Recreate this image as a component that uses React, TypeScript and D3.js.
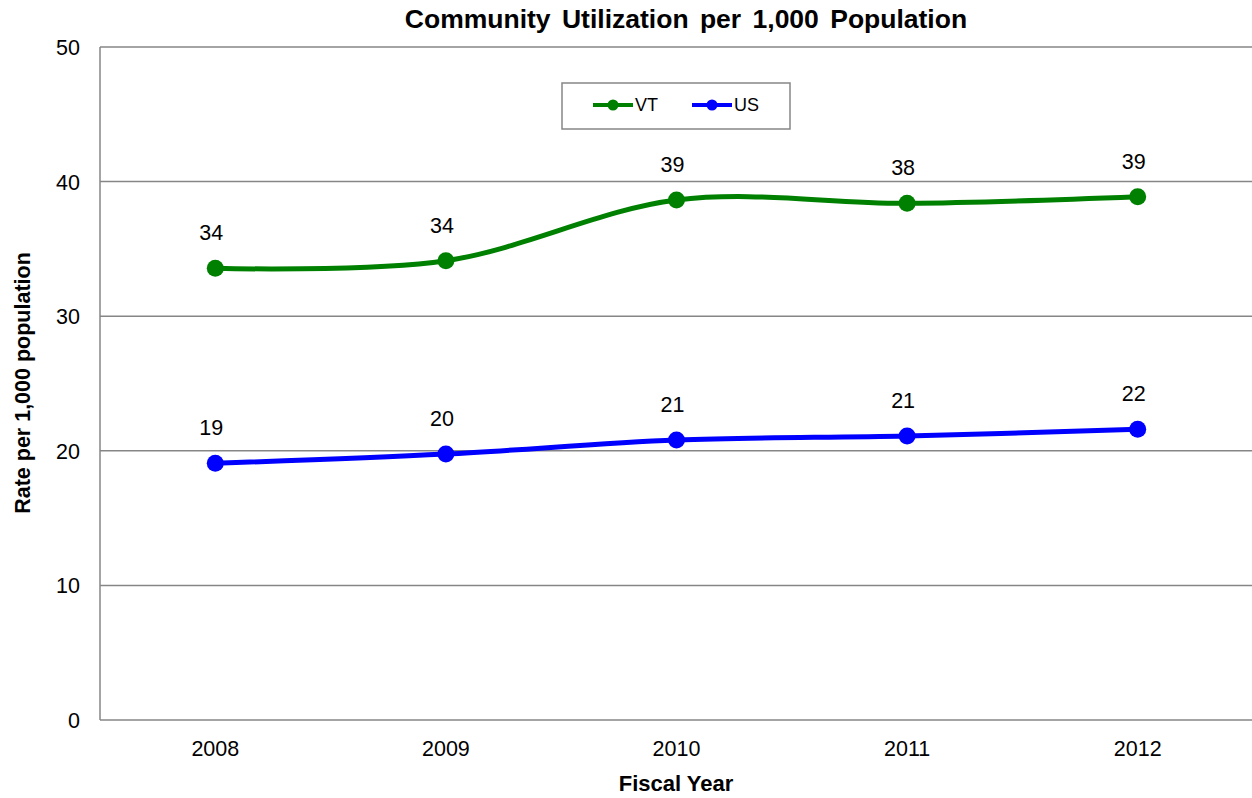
import React from "react";
import * as d3 from "d3";

// Fiscal years on the x axis
const years = ["2008", "2009", "2010", "2011", "2012"];
// Community utilization rate per 1,000 population
const vtRates = [33.56, 34.12, 38.63, 38.39, 38.88];
const usRates = [19.07, 19.76, 20.8, 21.1, 21.6];
const yTicks = [0, 10, 20, 30, 40, 50];

const seriesNames = ["VT", "US"];
const seriesColors = ["#008000", "#0000FF"];

const W = 1252;
const H = 798;
const FONT = "'Liberation Sans', Arial, sans-serif";

export default function App() {
  const left = 100;
  const right = 1253;
  const top = 47;
  const bottom = 720;

  const x = d3.scaleBand<string>().domain(years).range([left, right]);
  const y = d3.scaleLinear().domain([0, 50]).range([bottom, top]);
  const cx = (yr: string) => (x(yr) as number) + x.bandwidth() / 2;

  const line = d3
    .line<number>()
    .x((_, i) => cx(years[i]))
    .y((v) => y(v))
    .curve(d3.curveCatmullRom.alpha(0));

  const series = [vtRates, usRates];

  return (
    <svg
      width={W}
      height={H}
      style={{ position: "absolute", left: 0, top: 0, background: "#fff" }}
      fontFamily={FONT}
    >
      {/* title */}
      <text
        x={686}
        y={28}
        textAnchor="middle"
        fontSize={26.5}
        fontWeight="bold"
        fill="#000"
        style={{ wordSpacing: "4px" }}
      >
        Community Utilization per 1,000 Population
      </text>

      {/* gridlines */}
      {yTicks.map((t) => (
        <line key={t} x1={left} x2={right} y1={y(t)} y2={y(t)} stroke="#868686" strokeWidth={1.5} />
      ))}
      <line x1={left} x2={left} y1={top} y2={bottom} stroke="#868686" strokeWidth={1.5} />

      {/* y tick labels */}
      {yTicks.map((t) => (
        <text key={t} x={80} y={y(t) + 8} textAnchor="end" fontSize={21.5} fill="#000">
          {t}
        </text>
      ))}

      {/* x tick labels */}
      {years.map((yr) => (
        <text key={yr} x={cx(yr)} y={756} textAnchor="middle" fontSize={21.5} fill="#000">
          {yr}
        </text>
      ))}

      {/* axis titles */}
      <text x={676} y={791} textAnchor="middle" fontSize={22} fontWeight="bold" fill="#000">
        Fiscal Year
      </text>
      <text
        transform={`translate(30, 383) rotate(-90)`}
        textAnchor="middle"
        fontSize={21.5}
        fontWeight="bold"
        fill="#000"
      >
        Rate per 1,000 population
      </text>

      {/* series */}
      {series.map((vals, si) => (
        <g key={si}>
          <path d={line(vals) || ""} fill="none" stroke={seriesColors[si]} strokeWidth={5} />
          {vals.map((v, i) => (
            <circle key={i} cx={cx(years[i])} cy={y(v)} r={8.5} fill={seriesColors[si]} />
          ))}
          {vals.map((v, i) => (
            <text
              key={"l" + i}
              x={cx(years[i]) - 4}
              y={y(v) - 28}
              textAnchor="middle"
              fontSize={21.5}
              fill="#000"
            >
              {Math.round(v)}
            </text>
          ))}
        </g>
      ))}

      {/* legend */}
      <rect x={562} y={83} width={228} height={46} fill="#fff" stroke="#868686" strokeWidth={1.5} />
      {seriesNames.map((name, i) => {
        const x0 = 593 + i * 99;
        return (
          <g key={name}>
            <line x1={x0} x2={x0 + 40} y1={105} y2={105} stroke={seriesColors[i]} strokeWidth={4} />
            <circle cx={x0 + 20} cy={105} r={5.5} fill={seriesColors[i]} />
            <text x={x0 + 42} y={111} fontSize={18} fill="#000">
              {name}
            </text>
          </g>
        );
      })}
    </svg>
  );
}
